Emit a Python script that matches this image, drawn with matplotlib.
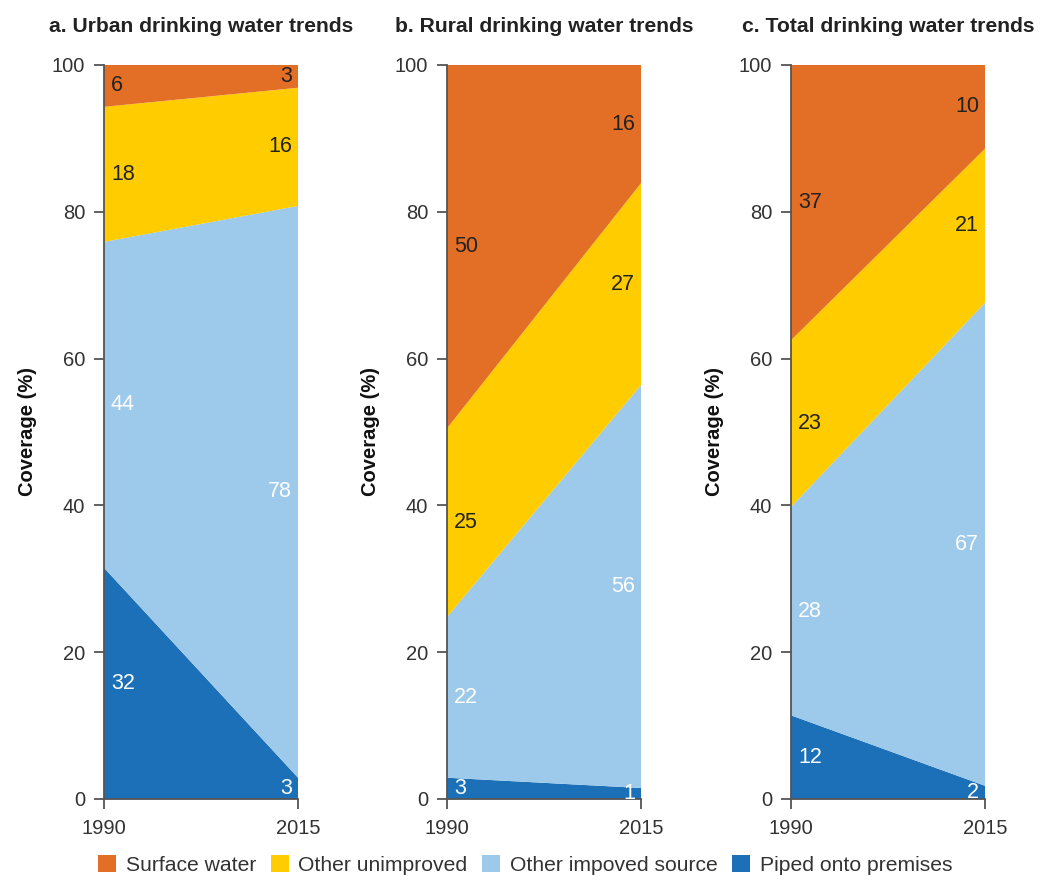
import matplotlib
matplotlib.use("Agg")
import matplotlib.pyplot as plt
from matplotlib.patches import Patch

plt.rcParams['font.family'] = ['Liberation Sans', 'DejaVu Sans']

years = [1990, 2015]

# stacked segment sizes (bottom to top)
urban_piped = [31.5, 2.9]
urban_improved = [44.4, 77.9]
urban_unimproved = [18.4, 16.1]
urban_surface = [5.7, 3.1]

rural_piped = [2.9, 1.5]
rural_improved = [21.9, 54.9]
rural_unimproved = [25.7, 27.5]
rural_surface = [49.5, 16.1]

total_piped = [11.4, 1.8]
total_improved = [28.4, 65.8]
total_unimproved = [22.7, 21.0]
total_surface = [37.5, 11.4]

# printed labels
urban_labels = [["32", "3"], ["44", "78"], ["18", "16"], ["6", "3"]]
rural_labels = [["3", "1"], ["22", "56"], ["25", "27"], ["50", "16"]]
total_labels = [["12", "2"], ["28", "67"], ["23", "21"], ["37", "10"]]

titles = ["a. Urban drinking water trends", "b. Rural drinking water trends",
          "c. Total drinking water trends"]
series_names = ["Piped onto premises", "Other impoved source", "Other unimproved", "Surface water"]
colors = ["#1B70B8", "#9DC9EA", "#FFCC00", "#E36F27"]
label_colors = ["white", "white", "#222222", "#222222"]
y_ticks = [0, 20, 40, 60, 80, 100]

panels = [
    ([urban_piped, urban_improved, urban_unimproved, urban_surface], urban_labels),
    ([rural_piped, rural_improved, rural_unimproved, rural_surface], rural_labels),
    ([total_piped, total_improved, total_unimproved, total_surface], total_labels),
]

W, H = 1040, 875
fig = plt.figure(figsize=(W / 100, H / 100), dpi=100)
lefts = [104, 447, 791]
ax_w = 194
ax_top, ax_bot = 65, 799
text_c = "#333333"
spine_c = "#555555"

for i, ((series, labels), left) in enumerate(zip(panels, lefts)):
    ax = fig.add_axes([left / W, 1 - ax_bot / H, ax_w / W, (ax_bot - ax_top) / H])
    ax.stackplot(years, *series, colors=colors, linewidth=0)
    ax.set_xlim(1990, 2015)
    ax.set_ylim(0, 100)
    ax.set_xticks(years)
    ax.set_yticks(y_ticks)
    ax.tick_params(axis='both', direction='out', length=7, width=1.3, colors=spine_c,
                   labelcolor=text_c, labelsize=14.5)
    ax.tick_params(axis='y', pad=6.5)
    ax.tick_params(axis='x', pad=7.5)
    for s in ['top', 'right']:
        ax.spines[s].set_visible(False)
    for s in ['left', 'bottom']:
        ax.spines[s].set_color(spine_c)
        ax.spines[s].set_linewidth(1.3)
    ax.set_ylabel("Coverage (%)", fontsize=14.5, fontweight='bold', color="#111111", labelpad=11)
    ax.set_title(titles[i], fontsize=15.2, fontweight='bold', color="#222222", pad=24)

    for j in range(2):
        base = 0.0
        for k, seg in enumerate(series):
            mid = base + seg[j] / 2
            base += seg[j]
            if j == 0:
                ax.annotate(labels[k][j], xy=(years[0], mid), xytext=(7, 0),
                            textcoords='offset pixels', ha='left', va='center',
                            fontsize=15.5, color=label_colors[k])
            else:
                ax.annotate(labels[k][j], xy=(years[1], mid), xytext=(-6, 0),
                            textcoords='offset pixels', ha='right', va='center',
                            fontsize=15.5, color=label_colors[k])

handles = [Patch(facecolor=colors[k], edgecolor='none', label=series_names[k]) for k in [3, 2, 1, 0]]
fig.legend(handles=handles, loc='center', bbox_to_anchor=(0.505, 1 - 865 / H), ncol=4,
           frameon=False, fontsize=15.2, handlelength=0.85, handleheight=0.85,
           handletextpad=0.45, columnspacing=0.7, labelcolor=text_c)

fig.savefig("out.png", dpi=100)
